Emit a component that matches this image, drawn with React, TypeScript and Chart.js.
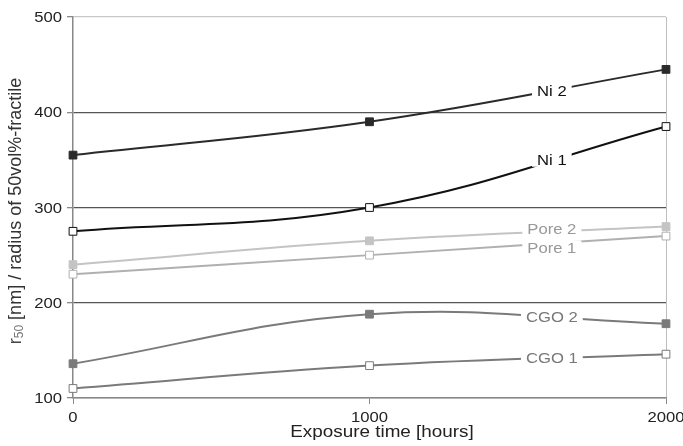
import React, { useEffect, useRef } from "react";
import { Chart, registerables } from "chart.js";

Chart.register(...registerables);

const hours = [0, 1000, 2000];
const ni2 = [355, 390, 445];
const ni1 = [275, 300, 385];
const pore2 = [240, 265, 280];
const pore1 = [230, 250, 270];
const cgo2 = [136, 188, 178];
const cgo1 = [110, 134, 146];
const yTicks = [100, 200, 300, 400, 500];
const xTicks = [0, 1000, 2000];
const xTitle = "Exposure time [hours]";
const labelAt = 1615;

const FONT = "Arial, 'Liberation Sans', sans-serif";
const SX = 1.11;

function ds(label: string, vals: number[], line: string, fill: string, textColor: string, dy: number) {
  return {
    label,
    data: hours.map((h, i) => ({ x: h, y: vals[i] })),
    borderColor: line,
    borderWidth: 2,
    backgroundColor: fill,
    pointBackgroundColor: fill,
    pointBorderColor: line,
    pointBorderWidth: 1,
    pointStyle: "rect",
    pointRadius: 5.5,
    tension: 0.4,
    clip: false,
    textColor,
    labelDy: dy,
  } as any;
}

function txt(ctx: any, s: string, x: number, y: number, size: number, color: string, align: string) {
  ctx.save();
  ctx.translate(x, y);
  ctx.scale(SX, 1);
  ctx.font = `${size}px ${FONT}`;
  ctx.fillStyle = color;
  ctx.textAlign = align;
  ctx.textBaseline = "middle";
  ctx.fillText(s, 0, 0);
  ctx.restore();
}

const inlineLabels = {
  id: "inlineLabels",
  afterDatasetsDraw(chart: any) {
    const ctx = chart.ctx;
    const px = chart.scales.x.getPixelForValue(labelAt);
    chart.data.datasets.forEach((d: any, i: number) => {
      const pts = chart.getDatasetMeta(i).data;
      let k = 0;
      while (k < pts.length - 2 && pts[k + 1].x < px) k++;
      const a = pts[k], b = pts[k + 1];
      const P = [
        [a.x, a.y],
        [a.cp2x ?? a.x, a.cp2y ?? a.y],
        [b.cp1x ?? b.x, b.cp1y ?? b.y],
        [b.x, b.y],
      ];
      const bez = (t: number, j: number) => {
        const u = 1 - t;
        return u * u * u * P[0][j] + 3 * u * u * t * P[1][j] + 3 * u * t * t * P[2][j] + t * t * t * P[3][j];
      };
      let lo = 0, hi = 1;
      for (let n = 0; n < 40; n++) {
        const m = (lo + hi) / 2;
        if (bez(m, 0) < px) lo = m; else hi = m;
      }
      const py = bez((lo + hi) / 2, 1) + (d.labelDy || 0);
      ctx.save();
      ctx.font = `15px ${FONT}`;
      const w = ctx.measureText(d.label).width * SX;
      ctx.fillStyle = "#ffffff";
      ctx.fillRect(px - w / 2 - 5, py - 7, w + 10, 14);
      ctx.restore();
      txt(ctx, d.label, px, py + 1, 15, d.textColor, "center");
    });
  },
};

const axisTexts = {
  id: "axisTexts",
  afterDraw(chart: any) {
    const ctx = chart.ctx;
    const ys = chart.scales.y;
    const xs = chart.scales.x;
    ys.ticks.forEach((t: any) => {
      txt(ctx, String(t.value), 62, ys.getPixelForValue(t.value) + 1, 15, "#222", "right");
    });
    xs.ticks.forEach((t: any) => {
      txt(ctx, String(t.value), xs.getPixelForValue(t.value), 418, 15, "#222", "center");
    });
    txt(ctx, xTitle, 382, 432, 17, "#222", "center");

    // y title (rotated, with subscript)
    ctx.save();
    ctx.translate(16, 211);
    ctx.rotate(-Math.PI / 2);
    ctx.textBaseline = "middle";
    const big = `18px ${FONT}`;
    const small = `12px ${FONT}`;
    const parts = [
      { t: "r", f: big, dy: 0, c: "#444" },
      { t: "50", f: small, dy: 4, c: "#777" },
      { t: " [nm] / radius of 50vol%-fractile", f: big, dy: 0, c: "#333" },
    ];
    let total = 0;
    parts.forEach((p) => { ctx.font = p.f; total += ctx.measureText(p.t).width; });
    let x = -total / 2;
    parts.forEach((p) => {
      ctx.font = p.f;
      ctx.fillStyle = p.c;
      ctx.fillText(p.t, x, p.dy);
      x += ctx.measureText(p.t).width;
    });
    ctx.restore();
  },
};

export default function App() {
  const ref = useRef<HTMLCanvasElement>(null);
  useEffect(() => {
    document.body.style.margin = "0";
    const chart = new Chart(ref.current as HTMLCanvasElement, {
      type: "line",
      data: {
        datasets: [
          ds("Ni 2", ni2, "#2a2a2a", "#2a2a2a", "#111", 0),
          ds("Ni 1", ni1, "#111111", "#ffffff", "#111", -1),
          ds("Pore 2", pore2, "#c4c4c4", "#c4c4c4", "#999", -3),
          ds("Pore 1", pore1, "#b0b0b0", "#ffffff", "#999", 4),
          ds("CGO 2", cgo2, "#7a7a7a", "#7a7a7a", "#777", 0),
          ds("CGO 1", cgo1, "#7a7a7a", "#ffffff", "#777", 0),
        ],
      },
      options: {
        animation: false,
        responsive: false,
        layout: { padding: { top: 17, right: 17, left: 0, bottom: 0 } },
        plugins: { legend: { display: false }, tooltip: { enabled: false } },
        scales: {
          x: {
            type: "linear",
            min: 0,
            max: 2000,
            afterBuildTicks: (s: any) => { s.ticks = xTicks.map((v) => ({ value: v })); },
            afterFit: (s: any) => { s.height = 48; },
            ticks: { display: false },
            grid: {
              drawOnChartArea: true,
              color: (c: any) => (c.tick && c.tick.value === 2000 ? "#bdbdbd" : "rgba(0,0,0,0)"),
              tickColor: "#888",
              tickLength: 6,
            },
            border: { color: "#888", width: 1.5 },
          },
          y: {
            type: "linear",
            min: 100,
            max: 500,
            afterBuildTicks: (s: any) => { s.ticks = yTicks.map((v) => ({ value: v })); },
            afterFit: (s: any) => { s.width = 73; },
            ticks: { display: false },
            grid: {
              color: (c: any) => (c.tick && c.tick.value === 500 ? "#c8c8c8" : c.tick && c.tick.value === 100 ? "#888" : "#555"),
              lineWidth: 1.3,
              tickColor: "#888",
              tickLength: 6,
            },
            border: { color: "#888", width: 1.5 },
          },
        },
      } as any,
      plugins: [inlineLabels, axisTexts],
    });
    return () => chart.destroy();
  }, []);
  return <canvas ref={ref} width={683} height={446} style={{ display: "block" }} />;
}
